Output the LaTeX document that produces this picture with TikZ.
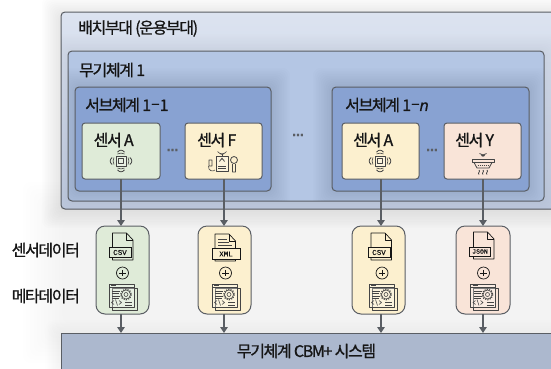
\documentclass[tikz,border=0pt]{standalone}
\usepackage{fontspec}
\setmainfont{Noto Sans CJK KR}
\newfontfamily\kr[FakeBold=1.0,LetterSpace=-8.5]{Noto Sans CJK KR}
\newfontfamily\iconfont[FakeBold=0.5]{Liberation Mono}
\newfontfamily\nfont[FakeBold=0.4]{Liberation Sans}
\newfontfamily\dotfont[FakeBold=0.8]{Liberation Sans}
\usetikzlibrary{arrows.meta}
\definecolor{edgegray}{HTML}{5A5E64}
\definecolor{ink}{HTML}{161616}
\definecolor{greenfill}{HTML}{DFEBD8}
\definecolor{yellowfill}{HTML}{FCF0CF}
\definecolor{pinkfill}{HTML}{F9E4D8}
\definecolor{outertop}{HTML}{DCE3F0}
\definecolor{outerbot}{HTML}{C2CDE2}
\definecolor{midfill}{HTML}{B4C6E4}
\definecolor{subfill}{HTML}{88A2D2}
\definecolor{cbmfill}{HTML}{ACB8CE}
\tikzset{
  x=1pt,y=-1pt,
  box/.style={draw=edgegray,line width=1pt,rounded corners=4pt},
  sensorbox/.style={box,rounded corners=3pt},
  capsule/.style={box,rounded corners=9pt},
  lbl/.style={font=\kr\fontsize{16}{16}\selectfont,text=ink,anchor=west,inner sep=0pt},
  dotlbl/.style={font=\dotfont\bfseries\fontsize{14}{14}\selectfont,text=edgegray,inner sep=0pt},
  flow/.style={draw=edgegray,line width=1.5pt,-{Triangle[length=6pt,width=7.5pt]}},
  ic/.style={draw=ink,line width=.7pt,line join=round},
  icg/.style={draw=ink!80,line width=.6pt,line join=round},
  tag/.style={draw=ink,line width=.7pt,inner sep=0pt,text=ink,font=\iconfont\fontsize{7.5}{7.5}\selectfont},
}
\newcommand{\softshadow}[6]{% x1 y1 x2 y2 opacity spread-per-step
  \foreach \s in {1,...,12}{%
    \fill[black,opacity=#5,rounded corners=8pt] ({#1-\s*#6},{#2-\s*#6}) rectangle ({#3+\s*#6},{#4+\s*#6});
  }}
\newcommand{\docpage}[2]{%
  \begin{scope}[shift={(#1,#2)}]
    \draw[ic] (-10,0) -- (4,0) -- (10.5,7) -- (10.5,27) -- (-10,27) -- cycle;
    \draw[ic] (4,0) -- (4,7) -- (10.5,7);
  \end{scope}}
\newcommand{\metaicon}[2]{%
  \begin{scope}[shift={(#1,#2)}]
    \draw[icg] (-11,4) rectangle (14,26);
    \draw[icg,fill=white,fill opacity=.3] (-14,0) rectangle (11,23);
    \draw[icg] (-14,3.5) -- (11,3.5);
    \draw[icg] (-12,1.7) -- (-7,1.7);
    \draw[icg] (-11,7) -- (-3,7) (-11,9.5) -- (-4,9.5) (-11,12) -- (-3,12) (-11,14.5) -- (-4,14.5);
    \draw[icg] (3,10.5) circle (4.5) (3,10.5) circle (2);
    \draw[icg,dash pattern=on 1.2pt off 1.2pt,line width=1.1pt] (3,10.5) circle (5.4);
    \draw[icg] (-9,20.5) -- (-11.5,18.5) -- (-9,16.5) (-4,20.5) -- (-1.5,18.5) -- (-4,16.5) (-5.5,21.5) -- (-7.5,15.5);
    \draw[icg] (2,18) -- (9,18) (2,21) -- (9,21);
  \end{scope}}
\newcommand{\plusicon}[2]{%
  \draw[ink,line width=.7pt] (#1,#2) circle (6);
  \draw[ink,line width=.7pt] (#1-3.2,#2) -- (#1+3.2,#2) (#1,#2-3.2) -- (#1,#2+3.2);}
\newcommand{\chipicon}[2]{%
  \begin{scope}[shift={(#1,#2)}]
    \draw[icg,fill=white,fill opacity=.3] (-5,-5) rectangle (5,5);
    \draw[icg] (-2.5,-2.5) rectangle (2.5,2.5);
    \foreach \a in {0,90,180,270}{
      \begin{scope}[rotate=\a]
        \draw[icg] (7,-3.5) arc (-30:30:7);
        \draw[icg,line width=.8pt] (8.8,-3.5) .. controls (11.5,-1.5) and (11.5,1.5) .. (8.8,3.5);
      \end{scope}}
  \end{scope}}
\begin{document}
\begin{tikzpicture}
\useasboundingbox (0,0) rectangle (551,368);
\fill[white] (0,0) rectangle (551,368);
\softshadow{66}{225}{560}{320}{.0045}{3.6}
\softshadow{61}{16}{551}{209}{.0075}{1.6}
\softshadow{61}{336}{551}{368}{.005}{1.3}
% outer
\draw[box,top color=outertop,bottom color=outerbot] (61,12) rectangle (556,209);
\node[lbl] (bd) at (78,28.5) {배치부대 (운용부대)};
\begin{scope}
\clip (61,12) rectangle (551,209);
\softshadow{68}{51}{544}{201}{.005}{1.4}
\end{scope}
% weapon system
\draw[box,fill=midfill] (68,51) rectangle (544,201);
\node[lbl] (wp) at (79,70) {무기체계 1};
\begin{scope}
\clip[rounded corners=4pt] (68,51) rectangle (544,201);
\softshadow{75}{87}{271}{191}{.009}{1.6}
\softshadow{332}{87}{529}{191}{.009}{1.6}
\end{scope}
% subsystems
\draw[box,fill=subfill] (75,87) rectangle (271,191);
\draw[box,fill=subfill] (332,87) rectangle (529,191);
\node[lbl] (s1) at (85,105) {서브체계 1\raisebox{.25ex}{–}1};
\node[lbl] (sn) at (345,105) {서브체계 1\raisebox{.25ex}{–}{\nfont\itshape n}};
% sensors
\draw[sensorbox,fill=greenfill] (82,123) rectangle (160,179);
\draw[sensorbox,fill=yellowfill] (185,123) rectangle (262,179);
\draw[sensorbox,fill=yellowfill] (342,123) rectangle (419,179);
\draw[sensorbox,fill=pinkfill] (444,123) rectangle (521,179);
\node[lbl] (la) at (93.5,140) {센서 A};
\node[lbl] (lf) at (197,140) {센서 F};
\node[lbl] (lb) at (353,140) {센서 A};
\node[lbl] (ly) at (455,140) {센서 Y};
\node[dotlbl] (d1) at (172.5,150) {...};
\node[dotlbl] (d2) at (432,150) {...};
\node[dotlbl] (d3) at (298,135) {...};
\chipicon{121}{161}
\chipicon{380}{161}
% F icon
\begin{scope}[shift={(222,161)}]
  \draw[icg,fill=white,fill opacity=.3] (-6,-5) rectangle (6,10);
  \draw[icg] (-4,5) -- (4,5) (-4,7.5) -- (4,7.5);
  \draw[icg] (0,-3) -- (2.4,0.5) arc (0:-180:2.4) -- cycle;
  \draw[icg] (0,-5) -- (0,-7);
  \draw[icg] (-2.5,-8) arc (150:30:2.9) (-4.5,-9.5) arc (145:35:5.5);
  \draw[icg] (-13,-1) rectangle (-10,5) (-13.5,5) .. controls (-14,10) and (-9,11) .. (-7,9);
  \draw[icg,line width=.8pt] (12,-1) circle (3.5) (10.5,3) -- (10.5,11) -- (13.5,11) -- (13.5,3);
\end{scope}
% Y icon
\begin{scope}[shift={(483,161)}]
  \draw[icg,line width=.9pt] (-11,-2) rectangle (11,1.5);
  \draw[icg,line width=.8pt] (-9,1.5) -- (-6,7) -- (6,7) -- (9,1.5);
  \draw[icg,dash pattern=on 1pt off 1pt,line width=1pt] (-5.5,4) -- (5.5,4);
  \draw[icg,line width=.8pt] (-3.5,-7.5) arc (135:45:5) (-1.7,-5.5) arc (135:45:2.4);
  \foreach \dx in {-4,0,4}{\draw[icg,line width=.8pt] (\dx,9) .. controls (\dx+2,10.5) and (\dx-2,12) .. (\dx,13.5);}
\end{scope}
% data capsules
\draw[capsule,fill=greenfill] (96,226) rectangle (149,314);
\draw[capsule,fill=yellowfill] (198,226) rectangle (251,314);
\draw[capsule,fill=yellowfill] (352,226) rectangle (405,314);
\draw[capsule,fill=pinkfill] (456,226) rectangle (510,314);
\coordinate (sa) at (121,179);\coordinate (sf) at (224,179);\coordinate (sb) at (381,179);\coordinate (sy) at (483,179);
\coordinate (da) at (121,226);\coordinate (df) at (224,226);\coordinate (db) at (381,226);\coordinate (dy) at (483,226);
\coordinate (ea) at (121,314);\coordinate (ef) at (224,314);\coordinate (eb) at (381,314);\coordinate (ey) at (483,314);
\coordinate (ca) at (121,333);\coordinate (cf) at (224,333);\coordinate (cb) at (381,333);\coordinate (cy) at (483,333);
% file icons
\docpage{122.5}{233}
\node[tag,fill=greenfill,minimum width=22pt,minimum height=10pt] (t1) at (120,252.5) {CSV};
\docpage{225}{234}
\draw[icg] (218,239) -- (227,239) (218,242) -- (229,242) (218,245) -- (232,245);
\node[tag,fill=yellowfill,minimum width=28pt,minimum height=11pt] (t2) at (226,254) {XML};
\docpage{381}{233}
\node[tag,fill=yellowfill,minimum width=22pt,minimum height=10pt] (t3) at (379,252.5) {CSV};
\docpage{483.5}{232}
\node[tag,fill=pinkfill,minimum width=21pt,minimum height=9pt,font=\iconfont\fontsize{6.5}{6.5}\selectfont] (t4) at (480,251.5) {JSON};
\plusicon{122.5}{273}
\plusicon{225.5}{273}
\plusicon{382}{273}
\plusicon{483.5}{273}
\metaicon{123}{284}
\metaicon{226}{284}
\metaicon{383}{284}
\metaicon{484.5}{284}
% side labels
\node[lbl] (l1) at (11.5,250) {센서데이터};
\node[lbl] (l2) at (11.5,296) {메타데이터};
% CBM
\draw[draw=edgegray,line width=1pt,fill=cbmfill] (61,333) rectangle (556,372);
\node[lbl,anchor=center] (cbm) at (306.5,351) {무기체계 CBM+ 시스템};
% connectors
\draw[flow] (sa) -- (da);
\draw[flow] (sf) -- (df);
\draw[flow] (sb) -- (db);
\draw[flow] (sy) -- (dy);
\draw[flow] (ea) -- (ca);
\draw[flow] (ef) -- (cf);
\draw[flow] (eb) -- (cb);
\draw[flow] (ey) -- (cy);
\end{tikzpicture}
\end{document}
